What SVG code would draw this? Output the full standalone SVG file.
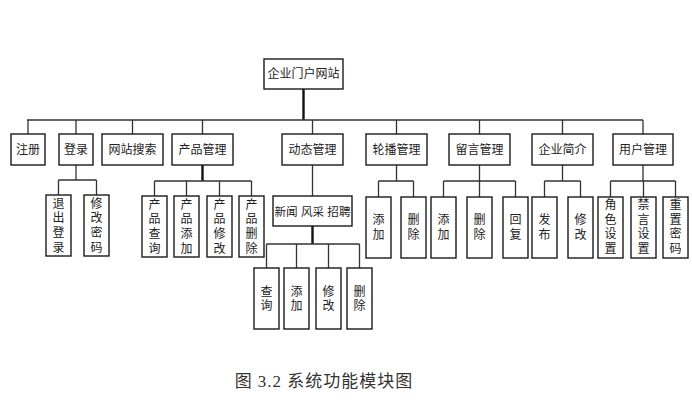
<svg xmlns="http://www.w3.org/2000/svg" width="692" height="402" viewBox="0 0 692 402">
<style>
.b{fill:#fff;stroke:#1a1a1a;stroke-width:1.4}
.t{font-family:"Liberation Sans","Noto Sans CJK SC",sans-serif;font-size:12px;fill:#222;text-anchor:middle;dominant-baseline:central}
.c{fill:none;stroke:#333;stroke-width:1.3}
.k{fill:none;stroke:#111;stroke-width:2.4}
.cap{font-family:"Liberation Serif","Noto Sans CJK SC",serif;font-size:17px;fill:#333;text-anchor:middle;dominant-baseline:central;letter-spacing:1px}
</style>
<rect width="692" height="402" fill="#fff"/>
<g id="connectors">
<path class="k" d="M303.5 89V120"/>
<path class="c" d="M27 120H643M28 120V134M76 120V134M132.5 120V134M202.5 120V134M312.5 120V134M396.5 120V134M479.5 120V134M562.5 120V134M643 120V134"/>
<path class="c" d="M76 165V180M58.5 180H96.5M58.5 180V195M96.5 180V195"/>
<path class="k" d="M202.5 165V181"/>
<path class="c" d="M154.5 181H251.5M154.5 181V196M186.5 181V196M219.5 181V196M251.5 181V196"/>
<path class="c" d="M312.5 165V196"/>
<path class="k" d="M312.5 226V244"/>
<path class="c" d="M266.5 244H359.5M266.5 244V268M296.5 244V268M328.5 244V268M359.5 244V268"/>
<path class="c" d="M396.5 165V181M378.5 181H413.5M378.5 181V197M413.5 181V197"/>
<path class="c" d="M479.5 165V181M443.5 181H515.5M443.5 181V197M479.5 181V197M515.5 181V197"/>
<path class="c" d="M562.5 165V181M544.5 181H580.5M544.5 181V197M580.5 181V197"/>
<path class="c" d="M643 165V181M610.5 181H675.5M610.5 181V197M643.5 181V197M675.5 181V197"/>
</g>
<g id="root"><rect class="b" x="264" y="59" width="79" height="30"/><text class="t" x="303.5" y="74">企业门户网站</text></g>
<g id="zhuce"><rect class="b" x="11" y="134" width="34" height="31"/><text class="t" x="28" y="150">注册</text></g>
<g id="denglu"><rect class="b" x="59" y="134" width="34" height="31"/><text class="t" x="76" y="150">登录</text></g>
<g id="sousuo"><rect class="b" x="102" y="134" width="61" height="31"/><text class="t" x="132.5" y="150">网站搜索</text></g>
<g id="chanpin"><rect class="b" x="172" y="134" width="61" height="31"/><text class="t" x="202.5" y="150">产品管理</text></g>
<g id="dongtai"><rect class="b" x="282" y="134" width="61" height="31"/><text class="t" x="312.5" y="150">动态管理</text></g>
<g id="lunbo"><rect class="b" x="366" y="134" width="61" height="31"/><text class="t" x="396.5" y="150">轮播管理</text></g>
<g id="liuyan"><rect class="b" x="449" y="134" width="61" height="31"/><text class="t" x="479.5" y="150">留言管理</text></g>
<g id="qiye"><rect class="b" x="532" y="134" width="61" height="31"/><text class="t" x="562.5" y="150">企业简介</text></g>
<g id="yonghu"><rect class="b" x="613" y="134" width="60" height="31"/><text class="t" x="643" y="150">用户管理</text></g>

<g id="tuichu"><rect class="b" x="46" y="195" width="25" height="61"/><text class="t"><tspan x="58.5" y="203.5">退</tspan><tspan x="58.5" y="218.2">出</tspan><tspan x="58.5" y="232.9">登</tspan><tspan x="58.5" y="247.6">录</tspan></text></g>
<g id="xiugaimima"><rect class="b" x="84" y="195" width="25" height="61"/><text class="t"><tspan x="96.5" y="203.5">修</tspan><tspan x="96.5" y="218.2">改</tspan><tspan x="96.5" y="232.9">密</tspan><tspan x="96.5" y="247.6">码</tspan></text></g>

<g id="cpcx"><rect class="b" x="142" y="196" width="25" height="61"/><text class="t"><tspan x="154.5" y="204.5">产</tspan><tspan x="154.5" y="219.2">品</tspan><tspan x="154.5" y="233.9">查</tspan><tspan x="154.5" y="248.6">询</tspan></text></g>
<g id="cptj"><rect class="b" x="174" y="196" width="25" height="61"/><text class="t"><tspan x="186.5" y="204.5">产</tspan><tspan x="186.5" y="219.2">品</tspan><tspan x="186.5" y="233.9">添</tspan><tspan x="186.5" y="248.6">加</tspan></text></g>
<g id="cpxg"><rect class="b" x="207" y="196" width="25" height="61"/><text class="t"><tspan x="219.5" y="204.5">产</tspan><tspan x="219.5" y="219.2">品</tspan><tspan x="219.5" y="233.9">修</tspan><tspan x="219.5" y="248.6">改</tspan></text></g>
<g id="cpsc"><rect class="b" x="239" y="196" width="25" height="61"/><text class="t"><tspan x="251.5" y="204.5">产</tspan><tspan x="251.5" y="219.2">品</tspan><tspan x="251.5" y="233.9">删</tspan><tspan x="251.5" y="248.6">除</tspan></text></g>

<g id="xinwen"><rect class="b" x="273" y="196" width="79" height="30"/><text class="t" x="312.5" y="211" style="font-size:11.6px">新闻 风采 招聘</text></g>

<g id="dtcx"><rect class="b" x="254" y="268" width="25" height="61"/><text class="t"><tspan x="266.5" y="291.5">查</tspan><tspan x="266.5" y="305.5">询</tspan></text></g>
<g id="dttj"><rect class="b" x="284" y="268" width="25" height="61"/><text class="t"><tspan x="296.5" y="291.5">添</tspan><tspan x="296.5" y="305.5">加</tspan></text></g>
<g id="dtxg"><rect class="b" x="316" y="268" width="25" height="61"/><text class="t"><tspan x="328.5" y="291.5">修</tspan><tspan x="328.5" y="305.5">改</tspan></text></g>
<g id="dtsc"><rect class="b" x="347" y="268" width="25" height="61"/><text class="t"><tspan x="359.5" y="291.5">删</tspan><tspan x="359.5" y="305.5">除</tspan></text></g>

<g id="lbtj"><rect class="b" x="366" y="197" width="25" height="61"/><text class="t"><tspan x="378.5" y="220">添</tspan><tspan x="378.5" y="235">加</tspan></text></g>
<g id="lbsc"><rect class="b" x="401" y="197" width="25" height="61"/><text class="t"><tspan x="413.5" y="220">删</tspan><tspan x="413.5" y="235">除</tspan></text></g>

<g id="lytj"><rect class="b" x="431" y="197" width="25" height="61"/><text class="t"><tspan x="443.5" y="220">添</tspan><tspan x="443.5" y="235">加</tspan></text></g>
<g id="lysc"><rect class="b" x="467" y="197" width="25" height="61"/><text class="t"><tspan x="479.5" y="220">删</tspan><tspan x="479.5" y="235">除</tspan></text></g>
<g id="lyhf"><rect class="b" x="503" y="197" width="25" height="61"/><text class="t"><tspan x="515.5" y="220">回</tspan><tspan x="515.5" y="235">复</tspan></text></g>

<g id="qyfb"><rect class="b" x="532" y="197" width="25" height="61"/><text class="t"><tspan x="544.5" y="220">发</tspan><tspan x="544.5" y="235">布</tspan></text></g>
<g id="qyxg"><rect class="b" x="568" y="197" width="25" height="61"/><text class="t"><tspan x="580.5" y="220">修</tspan><tspan x="580.5" y="235">改</tspan></text></g>

<g id="jssz"><rect class="b" x="598" y="197" width="25" height="61"/><text class="t"><tspan x="610.5" y="205">角</tspan><tspan x="610.5" y="219.7">色</tspan><tspan x="610.5" y="234.4">设</tspan><tspan x="610.5" y="249.1">置</tspan></text></g>
<g id="jysz"><rect class="b" x="631" y="197" width="25" height="61"/><text class="t"><tspan x="643.5" y="205">禁</tspan><tspan x="643.5" y="219.7">言</tspan><tspan x="643.5" y="234.4">设</tspan><tspan x="643.5" y="249.1">置</tspan></text></g>
<g id="czmm"><rect class="b" x="663" y="197" width="25" height="61"/><text class="t"><tspan x="675.5" y="205">重</tspan><tspan x="675.5" y="219.7">置</tspan><tspan x="675.5" y="234.4">密</tspan><tspan x="675.5" y="249.1">码</tspan></text></g>

<text class="cap" x="324" y="381">图 3.2 系统功能模块图</text>
</svg>
